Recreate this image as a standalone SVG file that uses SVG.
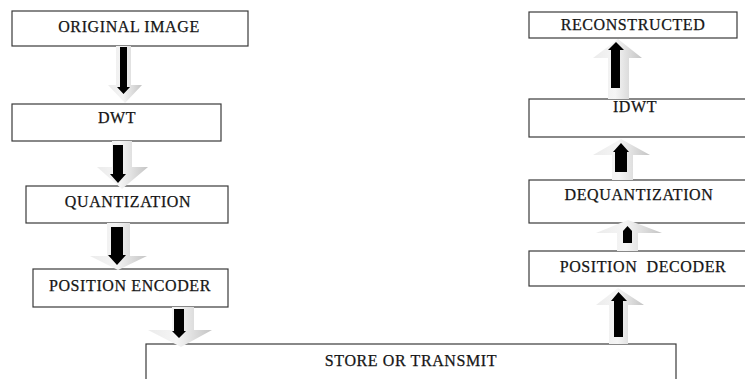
<svg xmlns="http://www.w3.org/2000/svg" width="745" height="379" viewBox="0 0 745 379">
  <defs>
    <linearGradient id="shade" x1="0" y1="0" x2="1" y2="0">
      <stop offset="0" stop-color="#ebebeb"/>
      <stop offset="0.45" stop-color="#f5f5f5"/>
      <stop offset="1" stop-color="#c4c4c4"/>
    </linearGradient>
    <style>
      .box { fill: #ffffff; stroke: #3a3a3a; stroke-width: 1.2; }
      .lbl { font-family: "Liberation Serif", "Times New Roman", serif; font-size: 16px; letter-spacing: 0.6px; fill: #151515; stroke: #151515; stroke-width: 0.25; text-anchor: middle; }
      .outer { fill: url(#shade); }
      .inner { fill: #000000; }
    </style>
  </defs>
  <rect width="745" height="379" fill="#ffffff"/>

  <!-- encoder chain -->
  <g id="original-image">
    <rect class="box" x="12" y="11" width="236" height="35"/>
    <text class="lbl" x="129" y="32">ORIGINAL IMAGE</text>
  </g>
  <g id="dwt">
    <rect class="box" x="12" y="104" width="209" height="37"/>
    <text class="lbl" x="117" y="123">DWT</text>
  </g>
  <g id="quantization">
    <rect class="box" x="26" y="186" width="202" height="37"/>
    <text class="lbl" x="128" y="207">QUANTIZATION</text>
  </g>
  <g id="position-encoder">
    <rect class="box" x="33" y="269" width="195" height="38"/>
    <text class="lbl" x="130" y="291">POSITION ENCODER</text>
  </g>

  <!-- channel -->
  <g id="store-or-transmit">
    <rect class="box" x="146" y="344" width="530" height="50"/>
    <text class="lbl" x="411" y="366">STORE OR TRANSMIT</text>
  </g>

  <!-- decoder chain -->
  <g id="position-decoder">
    <rect class="box" x="529" y="251" width="230" height="35"/>
    <text class="lbl" x="643" y="272" xml:space="preserve">POSITION  DECODER</text>
  </g>
  <g id="dequantization">
    <rect class="box" x="529" y="180" width="230" height="43"/>
    <text class="lbl" x="639" y="200">DEQUANTIZATION</text>
  </g>
  <g id="idwt">
    <rect class="box" x="529" y="99" width="230" height="38"/>
    <text class="lbl" x="635" y="112">IDWT</text>
  </g>
  <g id="reconstructed">
    <rect class="box" x="529" y="12" width="208" height="26"/>
    <text class="lbl" x="633" y="30">RECONSTRUCTED</text>
  </g>

  <!-- block arrows: shaded outer arrow with a black arrow inside -->
  <g id="connectors">
    <!-- original image to DWT -->
    <path class="outer" d="M116,46 H131 V85 H142 L125,103 L108,85 H116 Z"/>
    <path class="inner" d="M120,47 H127 V87 H130 L123.5,94 L117,87 H120 Z"/>

    <!-- DWT to quantization -->
    <path class="outer" d="M112,141 H132 V167 H148 L122,189 L97,167 H112 Z"/>
    <path class="inner" d="M113,145 H123 V174 H126 L118,183 L110,174 H113 Z"/>

    <!-- quantization to position encoder -->
    <path class="outer" d="M107,223 H130 V256 H147 L118,270 L90,256 H107 Z"/>
    <path class="inner" d="M111,227 H123 V255 H126 L117,265 L108,255 H111 Z"/>

    <!-- position encoder to store or transmit -->
    <path class="outer" d="M172,307 H194 V330 H212 L181,347 L148,330 H172 Z"/>
    <path class="inner" d="M174,309 H184 V331 H186 L179,338 L172,331 H174 Z"/>

    <!-- store or transmit to position decoder -->
    <path class="outer" d="M609,344 V305 H596 L618,288 L644,305 H628 V344 Z"/>
    <path class="inner" d="M614,337 V301 H611 L618.5,292 L627,301 H623 V337 Z"/>

    <!-- position decoder to dequantization -->
    <path class="outer" d="M617,251 V233 H596 L628,220 L662,233 H638 V251 Z"/>
    <path class="inner" d="M623,243 V231 L627.5,226 L632,231 V243 Z"/>

    <!-- dequantization to IDWT -->
    <path class="outer" d="M612,180 V155 H593 L621,139 L650,155 H633 V180 Z"/>
    <path class="inner" d="M615,172 V152 H613 L621,143 L629,152 H627 V172 Z"/>

    <!-- IDWT to reconstructed -->
    <path class="outer" d="M608,99 V58 H593 L618,39 L642,58 H629 V99 Z"/>
    <path class="inner" d="M611,88 V50 H608 L616,42 L624,50 H620 V88 Z"/>
  </g>
</svg>
